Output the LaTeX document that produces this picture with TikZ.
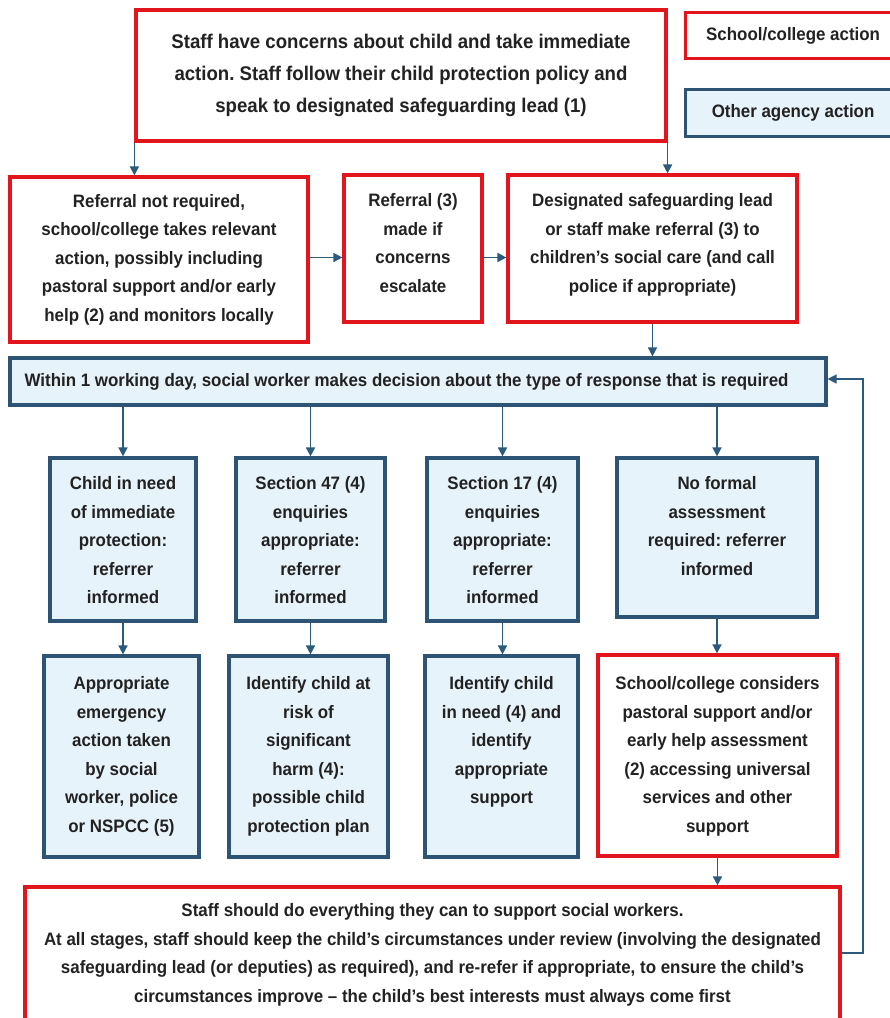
\documentclass[tikz,border=0pt]{standalone}
\usepackage{fontspec}
\setmainfont{Liberation Sans}[FakeStretch=0.94]
\usetikzlibrary{arrows.meta}
\frenchspacing
\definecolor{sred}{HTML}{E2141C}
\definecolor{sblue}{HTML}{2D5474}
\definecolor{sfill}{HTML}{E7F3FB}
\definecolor{stext}{HTML}{222222}
\definecolor{sarrow}{HTML}{2B5A7C}
\tikzset{
  box/.style={draw, rectangle, line width=3.2pt, inner sep=0pt},
  redbox/.style={box, draw=sred, fill=white},
  bluebox/.style={box, draw=sblue, fill=sfill},
  txt/.style={align=center, font=\frenchspacing\bfseries\fontsize{18}{28.5}\selectfont, text=stext, inner sep=0pt},
  bigtxt/.style={align=center, font=\frenchspacing\bfseries\fontsize{19.8}{32}\selectfont, text=stext, inner sep=0pt},
  arr/.style={draw=sarrow, line width=1.6pt, -{Triangle[length=9pt,width=9pt]}}
}
\begin{document}
\begin{tikzpicture}[x=1pt,y=-1pt]
\useasboundingbox (0,0) rectangle (890,1018);
\fill[white] (0,0) rectangle (890,1018);

% legend
\node[redbox, txt, minimum width=215pt, minimum height=46pt, anchor=north west] (legS) at (684,11) {School/college action};
\node[bluebox, txt, minimum width=215pt, minimum height=47pt, anchor=north west] (legO) at (684,88) {Other agency action};

% top
\node[redbox, bigtxt, minimum width=530pt, minimum height=131pt] (top) at (401,75.5)
 {Staff have concerns about child and take immediate\\ action. Staff follow their child protection policy and\\ speak to designated safeguarding lead (1)};

% row 2
\node[redbox, txt, minimum width=298pt, minimum height=165pt] (r2a) at (159,259.5)
 {Referral not required,\\ school/college takes relevant\\ action, possibly including\\ pastoral support and/or early\\ help (2) and monitors locally};
\node[redbox, minimum width=138pt, minimum height=147pt] (r2b) at (413,248.5) {};
\node[txt, anchor=north] (r2bt) at ([yshift=-20pt]r2b.north) {Referral (3)\\ made if\\ concerns\\ escalate};
\node[redbox, minimum width=289pt, minimum height=147pt] (r2c) at (652.5,248.5) {};
\node[txt, anchor=north] (r2ct) at ([yshift=-20pt]r2c.north) {Designated safeguarding lead\\ or staff make referral (3) to\\ children’s social care (and call\\ police if appropriate)};

% within
\node[bluebox, minimum width=816pt, minimum height=47pt] (within) at (418,381.5) {};
\node[txt, anchor=west] (withint) at ([xshift=16pt]within.west) {Within 1 working day, social worker makes decision about the type of response that is required};

% row 3
\node[bluebox, minimum width=146pt, minimum height=163pt] (r3a) at (123,539.5) {};
\node[txt, anchor=north] (r3at) at ([yshift=-20pt]r3a.north) {Child in need\\ of immediate\\ protection:\\ referrer\\ informed};
\node[bluebox, minimum width=149pt, minimum height=163pt] (r3b) at (310.5,539.5) {};
\node[txt, anchor=north] (r3bt) at ([yshift=-20pt]r3b.north) {Section 47 (4)\\ enquiries\\ appropriate:\\ referrer\\ informed};
\node[bluebox, minimum width=151pt, minimum height=163pt] (r3c) at (502.5,539.5) {};
\node[txt, anchor=north] (r3ct) at ([yshift=-20pt]r3c.north) {Section 17 (4)\\ enquiries\\ appropriate:\\ referrer\\ informed};
\node[bluebox, minimum width=200pt, minimum height=159pt] (r3d) at (717,537.5) {};
\node[txt, anchor=north] (r3dt) at ([yshift=-20pt]r3d.north) {No formal\\ assessment\\ required: referrer\\ informed};

% row 4
\node[bluebox, minimum width=155pt, minimum height=201pt] (r4a) at (121.5,756.5) {};
\node[txt, anchor=north] (r4at) at ([yshift=-22pt]r4a.north) {Appropriate\\ emergency\\ action taken\\ by social\\ worker, police\\ or NSPCC (5)};
\node[bluebox, minimum width=159pt, minimum height=201pt] (r4b) at (308.5,756.5) {};
\node[txt, anchor=north] (r4bt) at ([yshift=-22pt]r4b.north) {Identify child at\\ risk of\\ significant\\ harm (4):\\ possible child\\ protection plan};
\node[bluebox, minimum width=153pt, minimum height=201pt] (r4c) at (501.5,756.5) {};
\node[txt, anchor=north] (r4ct) at ([yshift=-22pt]r4c.north) {Identify child\\ in need (4) and\\ identify\\ appropriate\\ support};
\node[redbox, minimum width=239pt, minimum height=201pt] (r4d) at (717.5,755.5) {};
\node[txt, anchor=north] (r4dt) at ([yshift=-23pt]r4d.north) {School/college considers\\ pastoral support and/or\\ early help assessment\\ (2) accessing universal\\ services and other\\ support};

% bottom
\node[redbox, minimum width=815pt, minimum height=150pt] (bot) at (432.5,962) {};
\node[txt, anchor=north] (bott) at ([yshift=-18pt]bot.north) {Staff should do everything they can to support social workers.\\ At all stages, staff should keep the child’s circumstances under review (involving the designated\\ safeguarding lead (or deputies) as required), and re-refer if appropriate, to ensure the child’s\\ circumstances improve – the child’s best interests must always come first};

% connectors
\draw[arr] (top.south west) -- (top.south west |- r2a.north);
\draw[arr] (top.south east) -- (top.south east |- r2c.north);
\draw[arr] (r2a.east |- r2b.west) ++(0,9) coordinate (ca) -- (ca -| r2b.west);
\draw[arr] (r2b.east) ++(0,9) coordinate (cb) -- (cb -| r2c.west);
\draw[arr] (r2c.south) -- (r2c.south |- within.north);
\foreach \n in {r3a,r3b,r3c,r3d}{
  \draw[arr] (\n.north |- within.south) -- (\n.north);
}
\draw[arr] (r3a.south) -- (r3a.south |- r4a.north);
\draw[arr] (r3b.south) -- (r3b.south |- r4b.north);
\draw[arr] (r3c.south) -- (r3c.south |- r4c.north);
\draw[arr] (r3d.south) -- (r3d.south |- r4d.north);
\draw[arr] (r4d.south) -- (r4d.south |- bot.north);
\coordinate (fbB) at (863,953);
\coordinate (fbT) at (863,379);
\draw[arr] (bot.east |- fbB) -- (fbB) -- (fbT) -- (fbT -| within.east);
\end{tikzpicture}
\end{document}
